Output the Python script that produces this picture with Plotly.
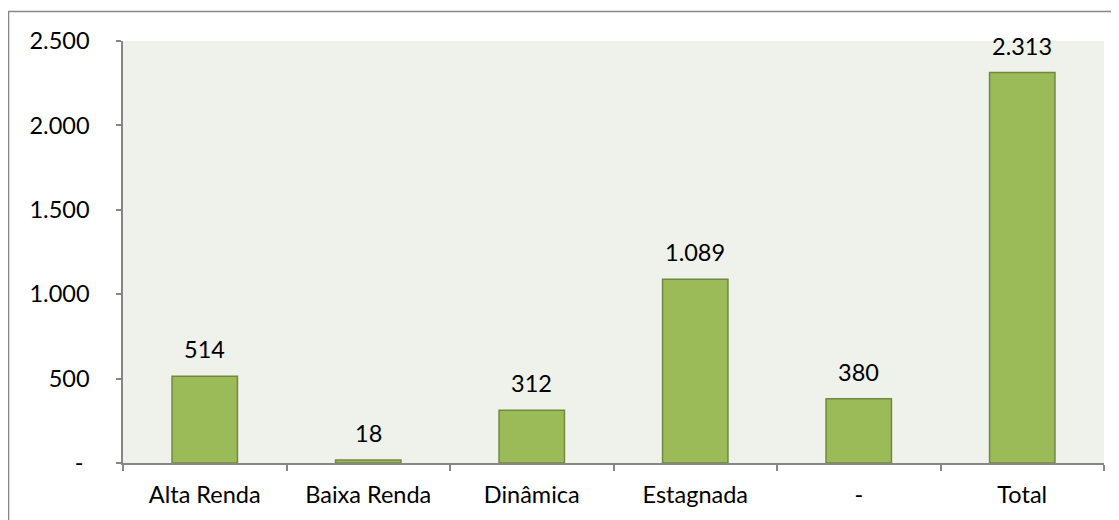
import plotly.graph_objects as go

categories = ["Alta Renda", "Baixa Renda", "Dinâmica", "Estagnada", "-", "Total"]
values = [514, 18, 312, 1089, 380, 2313]
value_labels = ["514", "18", "312", "1.089", "380", "2.313"]
ytick_vals = [0, 500, 1000, 1500, 2000, 2500]
ytick_text = ["-\u00a0", "500", "1.000", "1.500", "2.000", "2.500"]

FONT = "Lato"
FS = 23.5
GRAY = "#868686"

fig = go.Figure()
fig.add_trace(go.Bar(
    x=categories, y=values,
    marker=dict(color="#9BBB59", line=dict(color="#71893F", width=1.5)),
    hoverinfo="skip",
))
for c, v, t in zip(categories, values, value_labels):
    fig.add_annotation(x=c, y=v, text=t, showarrow=False, yshift=27,
                       font=dict(family=FONT, size=FS, color="black"))

fig.update_layout(
    width=1111, height=512,
    margin=dict(l=115, r=15, t=33, b=57),
    paper_bgcolor="white",
    plot_bgcolor="#EFF2EA",
    bargap=0.6,
    showlegend=False,
    font=dict(family=FONT, size=FS, color="black"),
    shapes=[dict(type="rect", xref="paper", yref="paper",
                 x0=-0.1167, x1=1.05, y0=-0.2, y1=1.0699,
                 line=dict(color=GRAY, width=1.5), layer="below")],
)
fig.update_xaxes(
    showline=True, linecolor=GRAY, linewidth=1.5,
    ticks="outside", tickson="boundaries", ticklen=6, tickcolor=GRAY, tickwidth=1.5,
    showgrid=False, tickfont=dict(family=FONT, size=FS, color="black"),
    ticklabelstandoff=10,
)
fig.update_yaxes(
    range=[0, 2500], tickvals=ytick_vals, ticktext=ytick_text,
    showline=True, linecolor=GRAY, linewidth=1.5,
    ticks="outside", ticklen=5, tickcolor=GRAY, tickwidth=1.5,
    showgrid=False, zeroline=False,
    tickfont=dict(family=FONT, size=FS, color="black"),
    ticklabelstandoff=22,
)
fig.write_html("out.html")
